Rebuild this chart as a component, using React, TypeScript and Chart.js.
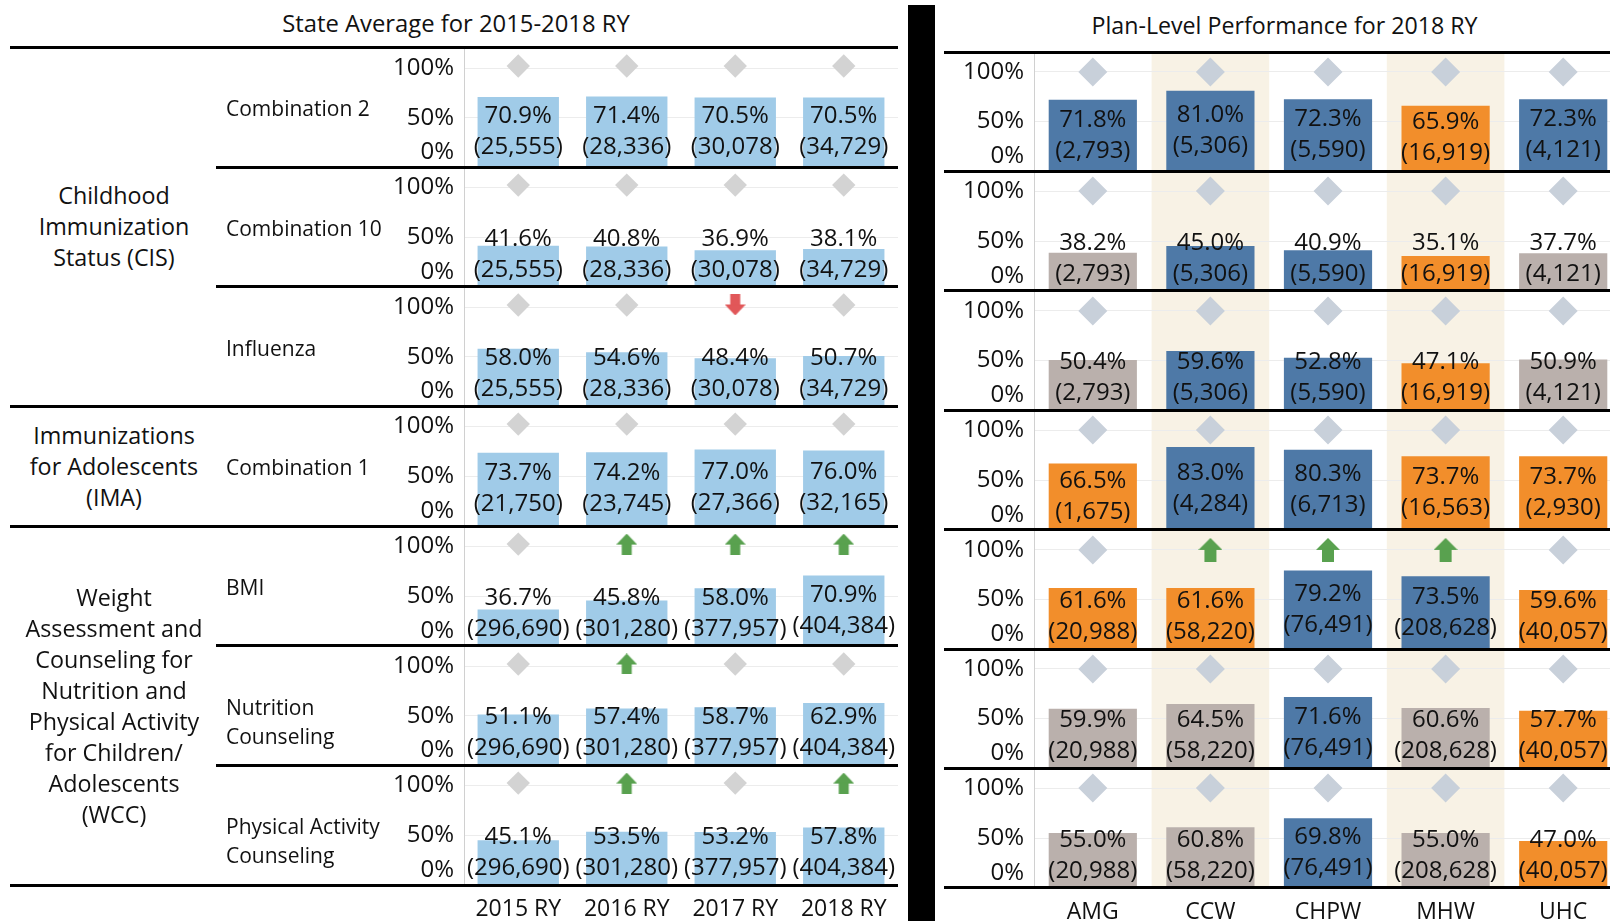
import React, { useEffect, useRef } from "react";
import { Chart, registerables } from "chart.js";

Chart.register(...registerables);

const FONT = '"Open Sans", "Noto Sans", "DejaVu Sans", sans-serif';
const TEXT = "#111111";

// ---------------- data ----------------
const years = ["2015 RY", "2016 RY", "2017 RY", "2018 RY"];
const plans = ["AMG", "CCW", "CHPW", "MHW", "UHC"];
const axisTicks = [0, 50, 100];
const axisTickLabels = ["0%", "50%", "100%"];

const groupLabels = [
  ["Childhood", "Immunization", "Status (CIS)"],
  ["Immunizations", "for Adolescents", "(IMA)"],
  ["Weight", "Assessment and", "Counseling for", "Nutrition and", "Physical Activity", "for Children/", "Adolescents", "(WCC)"],
];
const groupRowCounts = [3, 1, 3];
const measureLabels = [
  ["Combination 2"],
  ["Combination 10"],
  ["Influenza"],
  ["Combination 1"],
  ["BMI"],
  ["Nutrition", "Counseling"],
  ["Physical Activity", "Counseling"],
];

const stateRates = [
  [70.9, 71.4, 70.5, 70.5],
  [41.6, 40.8, 36.9, 38.1],
  [58.0, 54.6, 48.4, 50.7],
  [73.7, 74.2, 77.0, 76.0],
  [36.7, 45.8, 58.0, 70.9],
  [51.1, 57.4, 58.7, 62.9],
  [45.1, 53.5, 53.2, 57.8],
];
const stateDenominators = [
  [25555, 28336, 30078, 34729],
  [25555, 28336, 30078, 34729],
  [25555, 28336, 30078, 34729],
  [21750, 23745, 27366, 32165],
  [296690, 301280, 377957, 404384],
  [296690, 301280, 377957, 404384],
  [296690, 301280, 377957, 404384],
];
const stateChange = [
  ["same", "same", "same", "same"],
  ["same", "same", "same", "same"],
  ["same", "same", "down", "same"],
  ["same", "same", "same", "same"],
  ["same", "up", "up", "up"],
  ["same", "up", "same", "same"],
  ["same", "up", "same", "up"],
];

const planRates = [
  [71.8, 81.0, 72.3, 65.9, 72.3],
  [38.2, 45.0, 40.9, 35.1, 37.7],
  [50.4, 59.6, 52.8, 47.1, 50.9],
  [66.5, 83.0, 80.3, 73.7, 73.7],
  [61.6, 61.6, 79.2, 73.5, 59.6],
  [59.9, 64.5, 71.6, 60.6, 57.7],
  [55.0, 60.8, 69.8, 55.0, 47.0],
];
const planDenominators = [
  [2793, 5306, 5590, 16919, 4121],
  [2793, 5306, 5590, 16919, 4121],
  [2793, 5306, 5590, 16919, 4121],
  [1675, 4284, 6713, 16563, 2930],
  [20988, 58220, 76491, 208628, 40057],
  [20988, 58220, 76491, 208628, 40057],
  [20988, 58220, 76491, 208628, 40057],
];
const planComparison = [
  ["above", "above", "above", "below", "above"],
  ["same", "above", "above", "below", "same"],
  ["same", "above", "above", "below", "same"],
  ["below", "above", "above", "below", "below"],
  ["below", "below", "above", "above", "below"],
  ["same", "same", "above", "same", "below"],
  ["same", "same", "above", "same", "below"],
];
const planChange = [
  ["same", "same", "same", "same", "same"],
  ["same", "same", "same", "same", "same"],
  ["same", "same", "same", "same", "same"],
  ["same", "same", "same", "same", "same"],
  ["same", "up", "up", "up", "same"],
  ["same", "same", "same", "same", "same"],
  ["same", "same", "same", "same", "same"],
];
const shadedPlans = [1, 3];
const stateMarkerLevel = 102.5;
const planMarkerLevel = 100;

// ---------------- styles ----------------
const stateBarColor = "#A0CBE8";
const comparisonColors: Record<string, string> = { above: "#4E79A7", below: "#F28E2B", same: "#BAB0AC" };
const changeColors: Record<string, string> = { up: "#59A14F", down: "#E15759" };
const bandColor = "#F8F2E5";
const VALUE_SIZE = 24;

const LEFT = { canvasX: 380, axisW: 84, width: 518, top0: 47.5, rowH: 119.65, yMax: 120.7, diamond: 11.7, diamondColor: "#D3D3D3", arrow: 21, lineX1: 216, lineX1Group: 10, lineX2: 898 };
const RIGHT = { canvasX: 944, axisW: 90, width: 678, top0: 52, rowH: 119.4, yMax: 120.1, diamond: 14.5, diamondColor: "#C8D0DA", arrow: 24, lineX1: 944, lineX2: 1610 };
const XAXIS_H = 40;

function makeArrow(dir: string, color: string, size: number): HTMLCanvasElement {
  const c = document.createElement("canvas");
  c.width = size;
  c.height = size;
  const ctx = c.getContext("2d")!;
  ctx.fillStyle = color;
  const head = Math.round(size * 0.52);
  const shaftW = Math.round(size * 0.48);
  const sx = (size - shaftW) / 2;
  ctx.beginPath();
  if (dir === "up") {
    ctx.moveTo(0, head);
    ctx.lineTo(size / 2, 0);
    ctx.lineTo(size, head);
    ctx.closePath();
    ctx.fill();
    ctx.fillRect(sx, head - 0.5, shaftW, size - head + 0.5);
  } else {
    ctx.moveTo(0, size - head);
    ctx.lineTo(size / 2, size);
    ctx.lineTo(size, size - head);
    ctx.closePath();
    ctx.fill();
    ctx.fillRect(sx, 0, shaftW, size - head + 0.5);
  }
  return c;
}

type RowProps = {
  x: number; y: number; w: number; h: number; axisW: number;
  labels: string[]; rates: number[]; denoms: number[]; colors: string[]; change: string[];
  markerLevel: number; yMax: number; showX: boolean; bands: number[];
  diamondR: number; diamondColor: string; arrowSize: number;
};

function RowChart(p: RowProps) {
  const ref = useRef<HTMLCanvasElement>(null);
  useEffect(() => {
    const canvas = ref.current!;
    const up = makeArrow("up", changeColors.up, p.arrowSize);
    const down = makeArrow("down", changeColors.down, p.arrowSize);
    const styles = p.change.map((c) => (c === "up" ? up : c === "down" ? down : "rectRot"));
    const font = `${VALUE_SIZE}px ${FONT}`;
    const decor = {
      id: "decor",
      beforeDraw(chart: any) {
        if (!p.bands.length) return;
        const { ctx, chartArea } = chart;
        const xs = chart.scales.x;
        const cw = (xs.right - xs.left) / p.labels.length;
        ctx.save();
        ctx.fillStyle = bandColor;
        p.bands.forEach((i) => {
          const cx = xs.getPixelForValue(i);
          ctx.fillRect(cx - cw / 2, chartArea.top, cw, chartArea.bottom - chartArea.top);
        });
        ctx.restore();
      },
      afterDraw(chart: any) {
        const { ctx, chartArea } = chart;
        const ys = chart.scales.y;
        ctx.save();
        ctx.font = font;
        ctx.fillStyle = TEXT;
        ctx.textBaseline = "middle";
        ctx.textAlign = "right";
        axisTicks.forEach((v, i) => {
          let py = ys.getPixelForValue(v);
          if (v === 0) py = chartArea.bottom - 15;
          ctx.fillText(axisTickLabels[i], chartArea.left - 10, py);
        });
        ctx.textAlign = "center";
        const meta = chart.getDatasetMeta(0);
        meta.data.forEach((bar: any, i: number) => {
          const pr = bar.getProps(["x", "y", "base"], true);
          const mid = Math.min((pr.y + pr.base) / 2, chartArea.bottom - 32);
          ctx.fillText(p.rates[i].toFixed(1) + "%", pr.x, mid - 15.5);
          ctx.fillText("(" + p.denoms[i].toLocaleString("en-US") + ")", pr.x, mid + 15.5);
        });
        ctx.restore();
      },
    };
    const xScale: any = {
      type: "category",
      display: p.showX,
      offset: true,
      grid: { display: false },
      border: { display: false },
      ticks: { color: TEXT, font: { family: FONT, size: 23 }, padding: 3, autoSkip: false, maxRotation: 0 },
    };
    if (p.showX) xScale.afterFit = (s: any) => { s.height = XAXIS_H; };
    const chart = new Chart(canvas, {
      type: "bar",
      data: {
        labels: p.labels,
        datasets: [
          {
            type: "bar",
            data: p.rates,
            backgroundColor: p.colors,
            borderWidth: 0,
            barPercentage: 0.75,
            categoryPercentage: 1,
            order: 2,
          } as any,
          {
            type: "line",
            data: p.change.map(() => p.markerLevel),
            showLine: false,
            pointStyle: styles,
            pointRadius: p.diamondR,
            pointBackgroundColor: p.diamondColor,
            pointBorderWidth: 0,
            order: 1,
          } as any,
        ],
      },
      options: {
        responsive: false,
        animation: false,
        events: [],
        layout: { padding: 0, autoPadding: false },
        plugins: { legend: { display: false }, tooltip: { enabled: false } },
        scales: {
          x: xScale,
          y: {
            type: "linear",
            min: 0,
            max: p.yMax,
            position: "left",
            afterBuildTicks: (s: any) => { s.ticks = axisTicks.map((v) => ({ value: v })); },
            afterFit: (s: any) => { s.width = p.axisW; },
            ticks: { display: false },
            grid: { color: "#ECECEC", lineWidth: 1, drawTicks: false },
            border: { display: true, color: "#D0D0D0", width: 1 },
          },
        },
      } as any,
      plugins: [decor],
    });
    return () => chart.destroy();
  }, []);
  return (
    <canvas
      ref={ref}
      width={p.w}
      height={p.h}
      style={{ position: "absolute", left: p.x, top: p.y, width: p.w, height: p.h }}
    />
  );
}

function HLine({ x1, x2, y }: { x1: number; x2: number; y: number }) {
  return <div style={{ position: "absolute", left: x1, top: y - 1.5, width: x2 - x1, height: 3, background: "#000" }} />;
}

function TextBlock({ lines, left, width, center, size, lh, align }: { lines: string[]; left: number; width: number; center: number; size: number; lh: number; align: "left" | "center" }) {
  return (
    <div style={{ position: "absolute", left, width, top: center - (lines.length * lh) / 2, fontSize: size, lineHeight: lh + "px", textAlign: align, whiteSpace: "nowrap" }}>
      {lines.map((l, i) => (
        <div key={i}>{l}</div>
      ))}
    </div>
  );
}

export default function App() {
  const rows = measureLabels.length;
  const lTop = (r: number) => LEFT.top0 + r * LEFT.rowH;
  const rTop = (r: number) => RIGHT.top0 + r * RIGHT.rowH;
  const groupStarts: number[] = [];
  groupRowCounts.reduce((acc, n) => { groupStarts.push(acc); return acc + n; }, 0);
  const groupBoundaries = new Set<number>([0, ...groupStarts, rows]);

  const items: React.ReactNode[] = [];
  for (let r = 0; r < rows; r++) {
    const last = r === rows - 1;
    const ly0 = Math.round(lTop(r));
    const ly1 = Math.round(lTop(r + 1));
    items.push(
      <RowChart
        key={"L" + r}
        x={LEFT.canvasX} y={ly0} w={LEFT.width} h={ly1 - ly0 + (last ? XAXIS_H : 0)} axisW={LEFT.axisW}
        labels={years} rates={stateRates[r]} denoms={stateDenominators[r]}
        colors={stateRates[r].map(() => stateBarColor)} change={stateChange[r]}
        markerLevel={stateMarkerLevel} yMax={LEFT.yMax} showX={last} bands={[]}
        diamondR={LEFT.diamond} diamondColor={LEFT.diamondColor} arrowSize={LEFT.arrow}
      />
    );
    const ry0 = Math.round(rTop(r));
    const ry1 = Math.round(rTop(r + 1));
    items.push(
      <RowChart
        key={"R" + r}
        x={RIGHT.canvasX} y={ry0} w={RIGHT.width} h={ry1 - ry0 + (last ? XAXIS_H : 0)} axisW={RIGHT.axisW}
        labels={plans} rates={planRates[r]} denoms={planDenominators[r]}
        colors={planComparison[r].map((c) => comparisonColors[c])} change={planChange[r]}
        markerLevel={planMarkerLevel} yMax={RIGHT.yMax} showX={last} bands={shadedPlans}
        diamondR={RIGHT.diamond} diamondColor={RIGHT.diamondColor} arrowSize={RIGHT.arrow}
      />
    );
  }

  const lines: React.ReactNode[] = [];
  for (let r = 0; r <= rows; r++) {
    lines.push(<HLine key={"hl" + r} x1={groupBoundaries.has(r) ? LEFT.lineX1Group : LEFT.lineX1} x2={LEFT.lineX2} y={lTop(r)} />);
    lines.push(<HLine key={"hr" + r} x1={RIGHT.lineX1} x2={RIGHT.lineX2} y={rTop(r)} />);
  }

  const texts: React.ReactNode[] = [];
  groupLabels.forEach((g, i) => {
    const a = groupStarts[i];
    const b = a + groupRowCounts[i];
    const c = (lTop(a) + lTop(b)) / 2;
    texts.push(<TextBlock key={"g" + i} lines={g} left={0} width={228} center={c} size={23.3} lh={31} align="center" />);
  });
  measureLabels.forEach((m, r) => {
    const c = (lTop(r) + lTop(r + 1)) / 2 + (m.length > 1 ? 16 : 1.5);
    texts.push(<TextBlock key={"m" + r} lines={m} left={226} width={165} center={c} size={21} lh={29} align="left" />);
  });

  return (
    <div style={{ position: "fixed", left: 0, top: 0, width: 1610, height: 924, overflow: "hidden", background: "#fff", fontFamily: FONT, color: TEXT }}>
      <TextBlock lines={["State Average for 2015-2018 RY"]} left={156} width={600} center={22.5} size={23.8} lh={32} align="center" />
      <TextBlock lines={["Plan-Level Performance for 2018 RY"]} left={984.5} width={600} center={25} size={23.2} lh={32} align="center" />
      {items}
      {lines}
      {texts}
      <div style={{ position: "absolute", left: 908, top: 5, width: 27, height: 916, background: "#000" }} />
    </div>
  );
}
